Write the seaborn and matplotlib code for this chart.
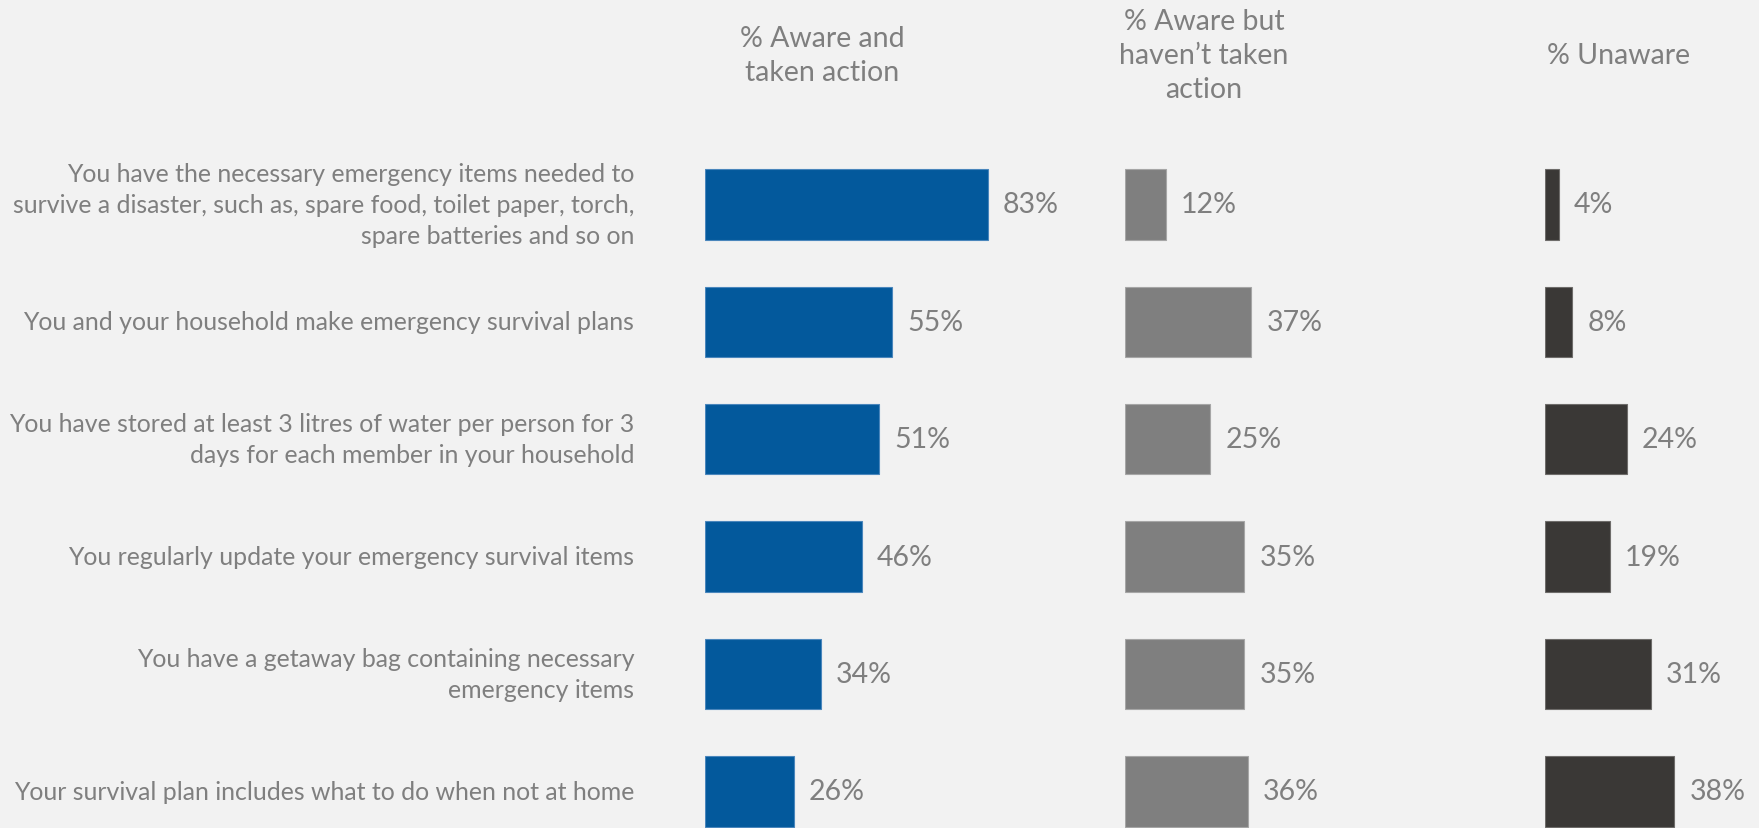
import matplotlib
matplotlib.use("Agg")
import matplotlib.pyplot as plt
import seaborn as sns

# ── Data ───────────────────────────────────────────────────────────────────────
statements = [
    "You have the necessary emergency items needed to\n"
    "survive a disaster, such as, spare food, toilet paper, torch,\n"
    "spare batteries and so on",
    "You and your household make emergency survival plans",
    "You have stored at least 3 litres of water per person for 3\n"
    "days for each member in your household",
    "You regularly update your emergency survival items",
    "You have a getaway bag containing necessary\nemergency items",
    "Your survival plan includes what to do when not at home",
]
aware_action = [83, 55, 51, 46, 34, 26]
aware_no_action = [12, 37, 25, 35, 35, 36]
unaware = [4, 8, 24, 19, 31, 38]
headers = ["% Aware and\ntaken action", "% Aware but\nhaven\u2019t taken\naction", "% Unaware"]

BG = "#F2F2F2"
TXT = "#7F7F7F"
COLORS = ["#03599C", "#7F7F7F", "#3A3836"]
EDGES = ["#4A86BC", "#A6A6A6", "#6E6C6A"]

sns.set_style("white")
plt.rcParams["font.family"] = ["Lato", "DejaVu Sans"]

W, H = 1759, 829
fig = plt.figure(figsize=(W / 100, H / 100), dpi=100, facecolor=BG)

PX_PER_PCT = 3.405
col_left = [705, 1125, 1545]
col_width = [400, 400, 214]
hdr_x = [822, 1204, 1619]
top_px = 146.75          # y = -0.5
ybot = 5.311             # value at bottom edge of figure

series = [aware_action, aware_no_action, unaware]
for i, vals in enumerate(series):
    ax = fig.add_axes([col_left[i] / W, 0, col_width[i] / W, (H - top_px) / H])
    ax.set_facecolor("none")
    sns.barplot(x=vals, y=statements, ax=ax, orient="h", color=COLORS[i],
                width=0.6, edgecolor=EDGES[i], linewidth=0.8, saturation=1)
    ax.set_xlim(0, col_width[i] / PX_PER_PCT)
    ax.set_ylim(ybot, -0.5)
    ax.bar_label(ax.containers[0], labels=[f"{v}%" for v in vals],
                 padding=11, color=TXT, fontsize=20.5)
    ax.set_xticks([])
    ax.set_xlabel("")
    ax.set_ylabel("")
    sns.despine(ax=ax, left=True, bottom=True)
    if i == 0:
        ax.tick_params(axis="y", length=0, pad=51, labelsize=17.9, labelcolor=TXT)
        for t in ax.get_yticklabels():
            t.set_linespacing(1.4)
            t.set_va("center")
    else:
        ax.set_yticks([])
    fig.text(hdr_x[i] / W, 1 - 56 / H, headers[i], ha="center", va="center",
             color=TXT, fontsize=20.5, linespacing=1.4)

fig.savefig("out.png", dpi=100, facecolor=BG)
